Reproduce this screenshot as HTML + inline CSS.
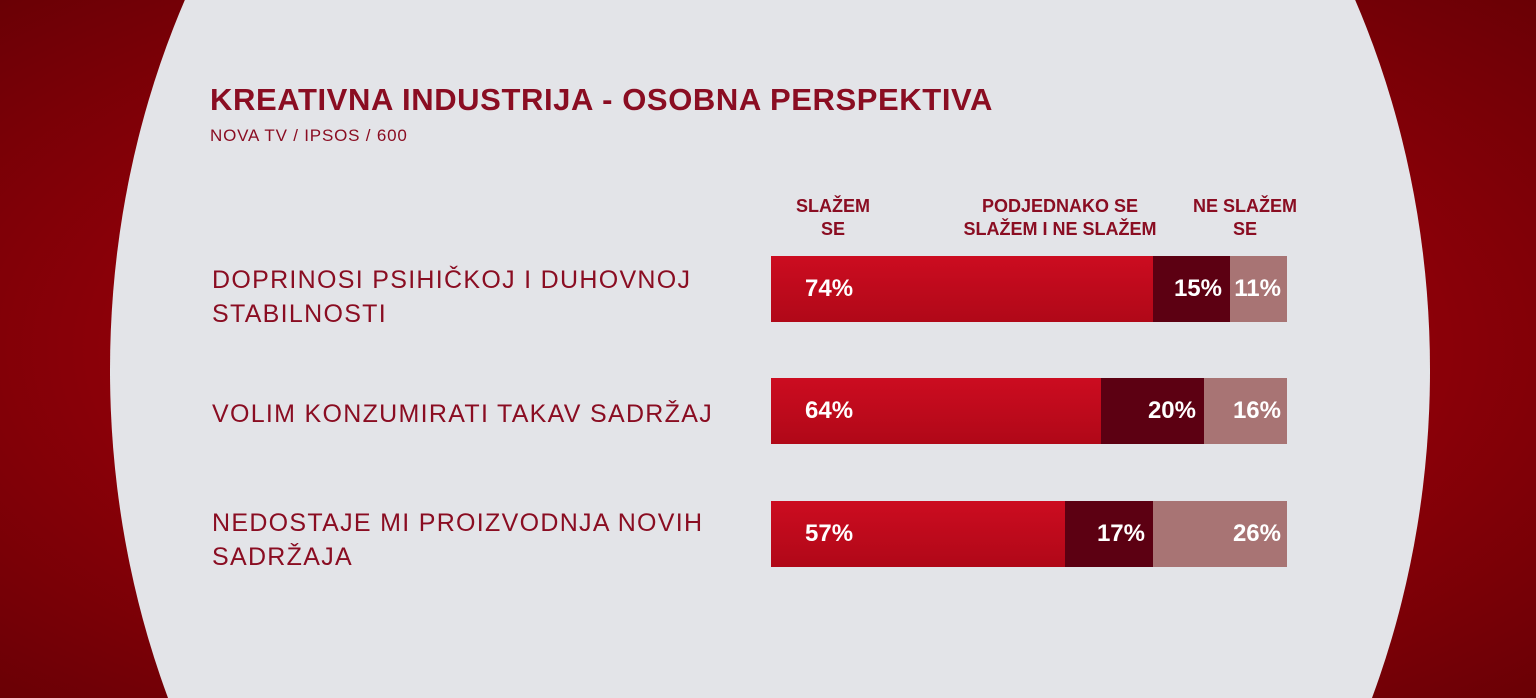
<!DOCTYPE html>
<html><head><meta charset="utf-8"><style>
html,body{margin:0;width:1536px;height:698px;overflow:hidden;}
#w{position:relative;width:1536px;height:698px;overflow:hidden;font-family:"Liberation Sans",sans-serif;background:radial-gradient(ellipse at 50% 50%,#b0000e 0%,#8c0008 60%,#6a0005 100%);}
svg{position:absolute;left:0;top:0;}
.t{position:absolute;color:#8a0d22;font-weight:bold;white-space:nowrap;}
.lab{position:absolute;color:#8a0d22;font-size:25px;line-height:34px;letter-spacing:1.3px;white-space:nowrap;}
.h{position:absolute;color:#8a0d22;font-size:18px;font-weight:bold;text-align:center;line-height:23px;white-space:nowrap;}
.bar{position:absolute;left:771px;width:516px;height:66px;display:flex;}
.bar div{height:100%;color:#fff;font-weight:bold;font-size:24px;display:flex;align-items:center;box-sizing:border-box;}
.a{background:linear-gradient(#cc0c20,#b00818);padding-left:34px}
.b{background:#5c0012;justify-content:flex-end;padding-right:8px}
.c{background:#a87474;justify-content:flex-end;padding-right:6px}
</style></head><body><div id="w">
<svg width="1536" height="698"><ellipse cx="770" cy="370" rx="660" ry="800" fill="#e3e4e8"/></svg>
<div class="t" style="left:210px;top:82px;font-size:31px;letter-spacing:0.6px;">KREATIVNA INDUSTRIJA - OSOBNA PERSPEKTIVA</div>
<div class="t" style="left:210px;top:126px;font-size:17px;font-weight:normal;letter-spacing:0.8px;">NOVA TV / IPSOS / 600</div>
<div class="h" style="left:773px;top:195px;width:120px;">SLAŽEM<br>SE</div>
<div class="h" style="left:940px;top:195px;width:240px;">PODJEDNAKO SE<br>SLAŽEM I NE SLAŽEM</div>
<div class="h" style="left:1180px;top:195px;width:130px;">NE SLAŽEM<br>SE</div>
<div class="lab" style="left:212px;top:263px;">DOPRINOSI PSIHIČKOJ I DUHOVNOJ<br>STABILNOSTI</div>
<div class="lab" style="left:212px;top:397px;">VOLIM KONZUMIRATI TAKAV SADRŽAJ</div>
<div class="lab" style="left:212px;top:506px;">NEDOSTAJE MI PROIZVODNJA NOVIH<br>SADRŽAJA</div>
<div class="bar" style="top:256px"><div class="a" style="width:382px">74%</div><div class="b" style="width:77px">15%</div><div class="c" style="width:57px">11%</div></div>
<div class="bar" style="top:378px"><div class="a" style="width:330px">64%</div><div class="b" style="width:103px">20%</div><div class="c" style="width:83px">16%</div></div>
<div class="bar" style="top:501px"><div class="a" style="width:294px">57%</div><div class="b" style="width:88px">17%</div><div class="c" style="width:134px">26%</div></div>
</div></body></html>
